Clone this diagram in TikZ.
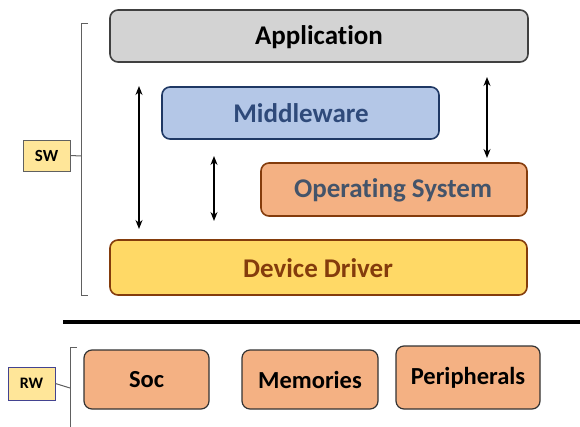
\documentclass[tikz,border=0pt]{standalone}
\usepackage{fontspec}
\setmainfont[Ligatures=NoCommon]{Carlito}
\usetikzlibrary{arrows.meta}
\definecolor{appfill}{HTML}{D3D3D3}
\definecolor{appdraw}{HTML}{404040}
\definecolor{mwfill}{HTML}{B4C7E7}
\definecolor{mwdraw}{HTML}{1F3864}
\definecolor{mwtext}{HTML}{2F4A7A}
\definecolor{osfill}{HTML}{F4B183}
\definecolor{osdraw}{HTML}{843C0C}
\definecolor{ostext}{HTML}{44546A}
\definecolor{ddfill}{HTML}{FFD966}
\definecolor{ddtext}{HTML}{843C0C}
\definecolor{tagfill}{HTML}{FFE699}
\definecolor{brk}{HTML}{606060}
\begin{document}
\begin{tikzpicture}[x=1pt,y=-1pt,
  layer/.style={rounded corners=8pt, line width=1.6pt},
  ltext/.style={font=\bfseries\fontsize{27}{30}\selectfont},
  hw/.style={rounded corners=8pt, line width=1.2pt, draw=black!80, fill=osfill, font=\bfseries\fontsize{24.5}{28}\selectfont},
  tag/.style={draw=brk, line width=0.8pt, fill=tagfill, inner sep=0pt, font=\bfseries\fontsize{17}{19}\selectfont},
  biarrow/.style={{Stealth[length=9pt,width=7pt]}-{Stealth[length=9pt,width=7pt]}, line width=1.3pt},
  bracket/.style={draw=brk, line width=1pt}]
\useasboundingbox (0,0) rectangle (580,427);
% SW layers
\path[layer, draw=appdraw, fill=appfill] (110,10) rectangle (528,62);
\node[ltext] (app) at (319,37) {Application};
\path[layer, draw=mwdraw, fill=mwfill] (162,87) rectangle (439,139);
\node[ltext, text=mwtext] (mw) at (301,113) {Middleware};
\path[layer, draw=osdraw, fill=osfill] (261,163) rectangle (527,216);
\node[ltext, text=ostext] (os) at (393,190) {Operating System};
\path[layer, draw=osdraw, fill=ddfill] (110,240) rectangle (527,295);
\node[ltext, text=ddtext] (dd) at (318,268) {Device Driver};
% arrows
\coordinate (a1t) at (139,86); \coordinate (a1b) at (139,229);
\coordinate (a2t) at (214,156); \coordinate (a2b) at (214,221);
\coordinate (a3t) at (487,77); \coordinate (a3b) at (487,158);
\draw[biarrow] (a1t) -- (a1b);
\draw[biarrow] (a2t) -- (a2b);
\draw[biarrow] (a3t) -- (a3b);
% SW bracket
\node[tag, minimum width=47pt, minimum height=31pt] (sw) at (46.5,155.5) {SW};
\coordinate (swb) at (81,156);
\draw[bracket] (88,24) -- (81,24) -- (81,295) -- (88,295);
\draw[bracket] (sw.east) -- (swb);
% separator
\coordinate (sepl) at (63,322); \coordinate (sepr) at (580,322);
\draw[line width=4pt] (sepl) -- (sepr);
% HW
\node[hw, minimum width=125pt, minimum height=59pt] (soc) at (146.5,379.5) {Soc};
\node[hw, minimum width=136pt, minimum height=59pt] (mem) at (310,379.5) {Memories};
\node[hw, minimum width=144pt, minimum height=63pt] (per) at (468,377.5) {Peripherals};
\node[tag, draw=brk!70!blue, minimum width=47pt, minimum height=33pt, font=\bfseries\fontsize{16}{18}\selectfont] (rw) at (31.5,383.5) {RW};
\coordinate (rwb) at (70,388);
\draw[bracket] (77,347) -- (70,347) -- (70,427);
\draw[bracket] (rw.east) -- (rwb);
\end{tikzpicture}
\end{document}
